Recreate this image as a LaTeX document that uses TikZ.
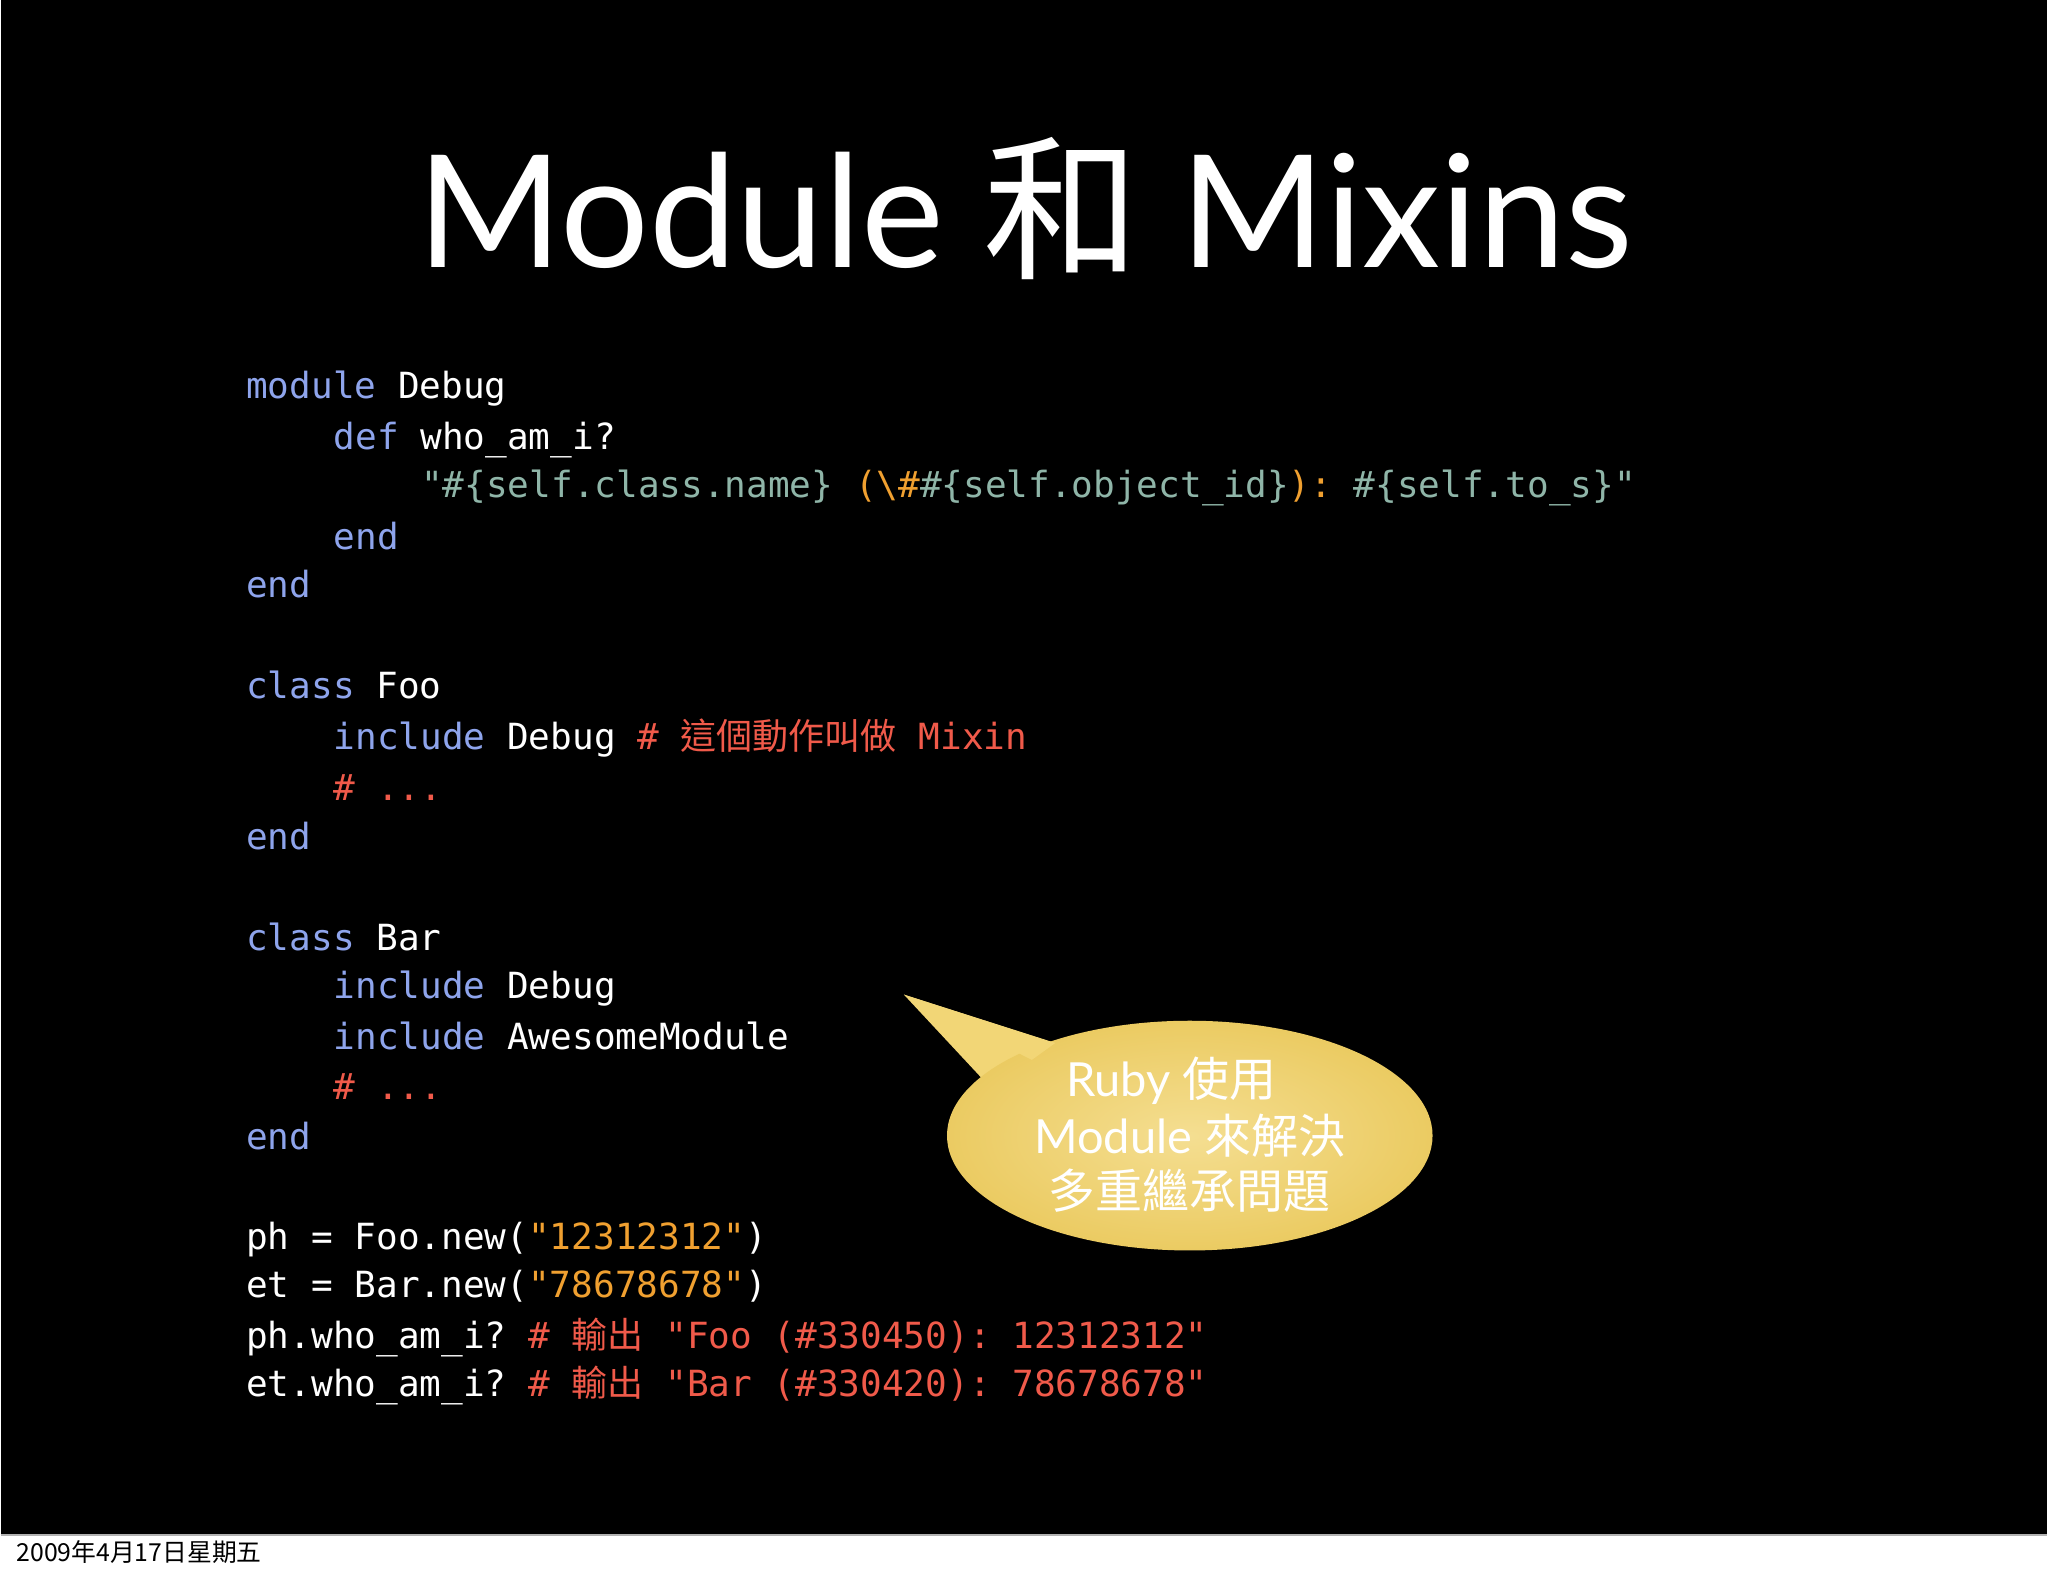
\documentclass[tikz,border=0pt]{standalone}
\usepackage{fontspec}
\setmainfont{Lato}
\setmonofont{DejaVu Sans Mono}
\newfontfamily\cjk{Noto Sans CJK TC}
\usetikzlibrary{shadings}
\definecolor{kw}{HTML}{8EA4EC}
\definecolor{st}{HTML}{8FB5A8}
\definecolor{og}{HTML}{F0A030}
\definecolor{cm}{HTML}{F05A4A}
\definecolor{bub}{HTML}{F2D676}
\definecolor{bubd}{HTML}{EBCB62}
\newcommand{\K}[1]{\textcolor{kw}{#1}}
\newcommand{\Sx}[1]{\textcolor{st}{#1}}
\newcommand{\Og}[1]{\textcolor{og}{#1}}
\newcommand{\Cm}[1]{\textcolor{cm}{#1}}
\begin{document}
\begin{tikzpicture}[x=1pt,y=-1pt,
  code/.style={anchor=base west,inner sep=0,text=white,font=\ttfamily\fontsize{27.6}{30}\selectfont},
  btxt/.style={text=white,font=\fontsize{36}{40}\selectfont,inner sep=0}]
\fill[black] (0,0) rectangle (1568,1176);
\fill[white] (0,1176) rectangle (1568,1206);
\draw[gray!60,line width=1pt] (0,1176) -- (1568,1176);
\useasboundingbox (0,0) rectangle (1568,1206);
\node[text=white,font=\fontsize{120}{140}\selectfont,inner sep=0] (title) at (785,160) {Module {\cjk 和} Mixins};
% code
\node[code] (l1) at (188,305) {\K{module} Debug};
\node[code] (l2) at (255,344) {\K{def} who\_am\_i?};
\node[code] (l3) at (322,381) {\Sx{"\#\{self.class.name\}}\Og{\ (\textbackslash\#}\Sx{\#\{self.object\_id\}}\Og{):\ }\Sx{\#\{self.to\_s\}"}};
\node[code] (l4) at (255,421) {\K{end}};
\node[code] (l5) at (188,458) {\K{end}};
\node[code] (l6) at (188,535) {\K{class} Foo};
\node[code] (l7) at (255,574) {\K{include} Debug \Cm{\# {\cjk 這個動作叫做} Mixin}};
\node[code] (l8) at (255,613) {\Cm{\# ...}};
\node[code] (l9) at (188,651) {\K{end}};
\node[code] (l10) at (188,728) {\K{class} Bar};
\node[code] (l11) at (255,765) {\K{include} Debug};
\node[code] (l12) at (255,804) {\K{include} AwesomeModule};
\node[code] (l13) at (255,842) {\Cm{\# ...}};
\node[code] (l14) at (188,881) {\K{end}};
\node[code] (l15) at (188,957) {ph = Foo.new(\Og{"12312312"})};
\node[code] (l16) at (188,994) {et = Bar.new(\Og{"78678678"})};
\node[code] (l17) at (188,1033) {ph.who\_am\_i? \Cm{\# {\cjk 輸出} "Foo (\#330450): 12312312"}};
\node[code] (l18) at (188,1070) {et.who\_am\_i? \Cm{\# {\cjk 輸出} "Bar (\#330420): 78678678"}};
% bubble
\fill[bub] (692,762) -- (810,800) -- (760,835) -- cycle;
\shade[inner color=bub!80!white, outer color=bubd] (911,870) ellipse [x radius=186, y radius=88];
\fill[bub] (692,762) -- (808,799) -- (790,812) -- cycle;
\node[btxt] (b1) at (897,828) {Ruby {\cjk 使用}};
\node[btxt] (b2) at (911,870) {Module {\cjk 來解決}};
\node[btxt] (b3) at (911,912) {\cjk 多重繼承問題};
\node[anchor=west,inner sep=0,font=\cjk\fontsize{19}{20}\selectfont,text=black] (date) at (12,1189) {2009年4月17日星期五};
\end{tikzpicture}
\end{document}
